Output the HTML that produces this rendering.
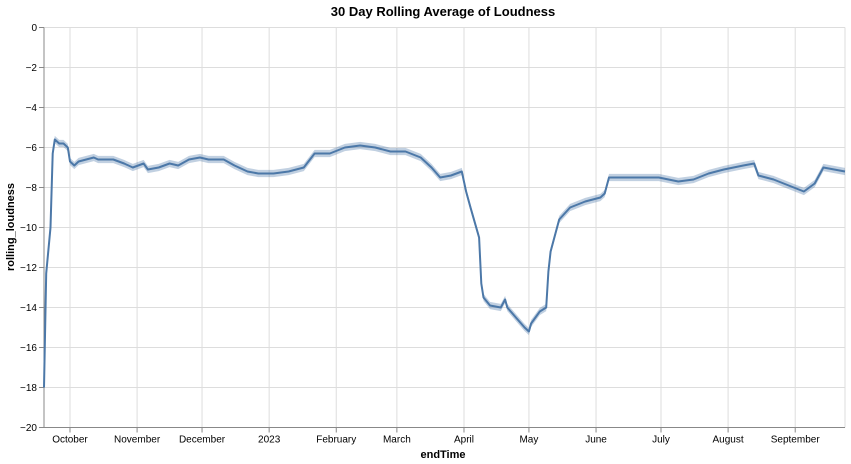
<!DOCTYPE html>
<html><head><meta charset="utf-8">
<style>
html,body{margin:0;padding:0;background:#fff;}
svg{display:block;font-family:"Liberation Sans",Arial,sans-serif;}
</style></head>
<body>
<svg id="chart" width="851" height="464" viewBox="0 0 851 464" xmlns="http://www.w3.org/2000/svg">
  <text x="443" y="16" text-anchor="middle" font-size="13" font-weight="bold" fill="#000">30 Day Rolling Average of Loudness</text>
  <g id="grid"></g>
  <g id="yaxis"></g>
  <g id="xaxis"></g>
  <g id="marks"></g>
  <text transform="translate(14,227) rotate(-90)" text-anchor="middle" font-size="11" font-weight="bold" fill="#000">rolling_loudness</text>
  <text x="443" y="458" text-anchor="middle" font-size="11" font-weight="bold" fill="#000">endTime</text>
</svg>
<script>
const dates = ["2022-09-19","2022-09-20","2022-09-22","2022-09-23","2022-09-24","2022-09-26","2022-09-28","2022-09-30","2022-10-01","2022-10-03","2022-10-05","2022-10-12","2022-10-14","2022-10-21","2022-10-26","2022-10-30","2022-11-04","2022-11-06","2022-11-11","2022-11-16","2022-11-20","2022-11-25","2022-11-30","2022-12-04","2022-12-11","2022-12-16","2022-12-22","2022-12-27","2023-01-03","2023-01-10","2023-01-17","2023-01-22","2023-01-29","2023-02-05","2023-02-12","2023-02-19","2023-02-26","2023-03-05","2023-03-12","2023-03-17","2023-03-21","2023-03-26","2023-03-31","2023-04-02","2023-04-04","2023-04-08","2023-04-09","2023-04-10","2023-04-13","2023-04-18","2023-04-20","2023-04-21","2023-04-25","2023-04-29","2023-05-01","2023-05-02","2023-05-06","2023-05-09","2023-05-10","2023-05-11","2023-05-15","2023-05-20","2023-05-27","2023-06-03","2023-06-05","2023-06-07","2023-06-12","2023-06-21","2023-06-30","2023-07-09","2023-07-16","2023-07-23","2023-07-30","2023-08-08","2023-08-13","2023-08-15","2023-08-22","2023-08-29","2023-09-05","2023-09-10","2023-09-14","2023-09-24"];
const loudness = [-18,-12.3,-10,-6.3,-5.6,-5.8,-5.8,-6.0,-6.7,-6.9,-6.7,-6.5,-6.6,-6.6,-6.8,-7.0,-6.8,-7.1,-7.0,-6.8,-6.9,-6.6,-6.5,-6.6,-6.6,-6.9,-7.2,-7.3,-7.3,-7.2,-7.0,-6.3,-6.3,-6.0,-5.9,-6.0,-6.2,-6.2,-6.5,-7.0,-7.5,-7.4,-7.2,-8.2,-9.0,-10.5,-12.8,-13.5,-13.9,-14.0,-13.6,-14.0,-14.5,-15.0,-15.2,-14.8,-14.2,-14.0,-12.2,-11.2,-9.6,-9.0,-8.7,-8.5,-8.3,-7.5,-7.5,-7.5,-7.5,-7.7,-7.6,-7.3,-7.1,-6.9,-6.8,-7.4,-7.6,-7.9,-8.2,-7.8,-7.0,-7.2];
const yTicks = [0,-2,-4,-6,-8,-10,-12,-14,-16,-18,-20];
const xTickDates = ["2022-10-01","2022-11-01","2022-12-01","2023-01-01","2023-02-01","2023-03-01","2023-04-01","2023-05-01","2023-06-01","2023-07-01","2023-08-01","2023-09-01"];
const xTickLabels = ["October","November","December","2023","February","March","April","May","June","July","August","September"];

const NS="http://www.w3.org/2000/svg";
const L=44,R=845,T=27.5,B=427.5;
const t0=Date.parse("2022-09-19"),t1=Date.parse("2023-09-24");
function xs(d){return L+(Date.parse(d)-t0)/(t1-t0)*(R-L);}
function ys(v){return T+(0-v)/20*(B-T);}
function mk(tag,attrs,parent){const e=document.createElementNS(NS,tag);for(const k in attrs)e.setAttribute(k,attrs[k]);parent.appendChild(e);return e;}
const grid=document.getElementById('grid'),ya=document.getElementById('yaxis'),xa=document.getElementById('xaxis'),marks=document.getElementById('marks');

yTicks.forEach(v=>{
  const y=ys(v);
  const g=mk('line',{x1:L,x2:R,y1:y,y2:y,stroke:'#ddd','stroke-width':1},grid);
  
  
  mk('line',{x1:L-5,x2:L,y1:y,y2:y,stroke:'#888'},ya);
  const t=mk('text',{x:L-7,y:y+3.5,'text-anchor':'end','font-size':10,fill:'#000'},ya);
  t.textContent=(v<0?'\u2212'+(-v):String(v));
  
  
});
xTickDates.forEach((d,i)=>{
  const x=xs(d);
  const g=mk('line',{x1:x,x2:x,y1:T,y2:B,stroke:'#ddd','stroke-width':1},grid);
  
  
  mk('line',{x1:x,x2:x,y1:B,y2:B+5,stroke:'#888'},xa);
  const t=mk('text',{x:x,y:B+15,'text-anchor':'middle','font-size':10,fill:'#000'},xa);
  t.textContent=xTickLabels[i];
  
  
});
mk('line',{x1:R,x2:R,y1:T,y2:B,stroke:'#ddd'},grid);
mk('line',{x1:L,x2:L,y1:T,y2:B,stroke:'#888'},ya);
mk('line',{x1:L,x2:R,y1:B,y2:B,stroke:'#888'},xa);

let up='',dn='';
dates.forEach((d,i)=>{up+=(i?'L':'M')+xs(d).toFixed(1)+','+ys(loudness[i]+0.18).toFixed(1);});
for(let i=dates.length-1;i>=0;i--){dn+='L'+xs(dates[i]).toFixed(1)+','+ys(loudness[i]-0.18).toFixed(1);}
const band=mk('path',{d:up+dn+'Z',fill:'#4c78a8','fill-opacity':0.35,stroke:'none'},marks);


let p='';
dates.forEach((d,i)=>{p+=(i?'L':'M')+xs(d).toFixed(1)+','+ys(loudness[i]).toFixed(1);});
const line=mk('path',{d:p,fill:'none',stroke:'#4c78a8','stroke-width':2,'stroke-linejoin':'round'},marks);


</script>
</body></html>
